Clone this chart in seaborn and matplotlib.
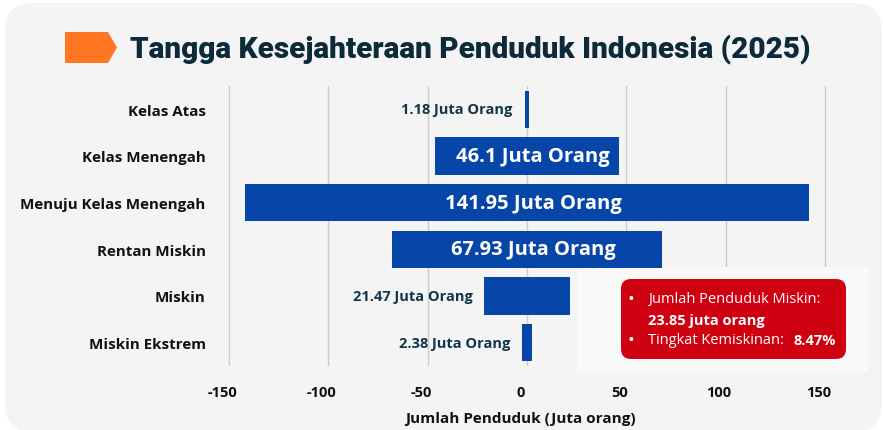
import numpy as np
import pandas as pd
import matplotlib
matplotlib.use("Agg")
import matplotlib.pyplot as plt
import seaborn as sns
from matplotlib.patches import FancyBboxPatch, Polygon, Rectangle
from matplotlib.transforms import IdentityTransform, ScaledTranslation

# ---------------- data ----------------
categories = ["Kelas Atas", "Kelas Menengah", "Menuju Kelas Menengah",
              "Rentan Miskin", "Miskin", "Miskin Ekstrem"]
values = [1.18, 46.1, 141.95, 67.93, 21.47, 2.38]
value_labels = [f"{v:g} Juta Orang" for v in values]
x_ticks = [-150, -100, -50, 0, 50, 100, 150]
title = "Tangga Kesejahteraan Penduduk Indonesia (2025)"
x_label = "Jumlah Penduduk (Juta orang)"
box_line1 = "Jumlah Penduduk Miskin:"
box_line2 = "23.85 juta orang"
box_line3 = "Tingkat Kemiskinan:"
box_line3_val = "8.47%"

# ---------------- style ----------------
sns.set_theme(style="white")
plt.rcParams["font.family"] = ["Open Sans", "DejaVu Sans"]

W, H = 883, 431
BLUE = "#0546A8"
NAVY = "#13354A"
RED = "#CF0010"
CARD = "#F4F4F4"

fig = plt.figure(figsize=(W / 100, H / 100), dpi=100)
fig.patch.set_facecolor("white")

def px(x, y):
    return (x, H - y)

# background card
card = FancyBboxPatch(px(5, 433), 877, 429,
                      boxstyle="round,pad=0,rounding_size=28",
                      transform=IdentityTransform(), fc=CARD, ec="none", zorder=0)
fig.add_artist(card)

# title marker
arrow = Polygon([px(65, 33), px(108, 33), px(117, 48.5), px(108, 64), px(65, 64)],
                closed=True, transform=IdentityTransform(), fc="#FF7722", ec="none")
fig.add_artist(arrow)
fig.text(130 / W, 1 - 49 / H, title, ha="left", va="center", fontsize=21.4,
         fontweight="black", color="#0C2A3A", family=["Roboto", "DejaVu Sans"])

# axes
ax_l, ax_r, ax_t, ax_b = 225, 829, 87, 367
ax = fig.add_axes([ax_l / W, 1 - ax_b / H, (ax_r - ax_l) / W, (ax_b - ax_t) / H])
ax.set_facecolor("none")

df = pd.DataFrame({"cat": categories, "v": values})
df["neg"] = -df["v"]
sns.barplot(data=df, y="cat", x="v", color=BLUE, saturation=1, width=0.8,
            errorbar=None, linewidth=0, ax=ax, zorder=2)
sns.barplot(data=df, y="cat", x="neg", color=BLUE, saturation=1, width=0.8,
            errorbar=None, linewidth=0, ax=ax, zorder=2)

ax.set_xlim(-152, 152)
ax.set_ylim(5.5, -0.5)
ax.set_xticks(x_ticks)
ax.set_xticklabels([str(t) for t in x_ticks], fontsize=10.5, fontweight="bold", color="#111111")
ax.tick_params(axis="x", length=0, pad=14)
ax.tick_params(axis="y", length=0, pad=14)
for lab in ax.get_yticklabels():
    lab.set_fontsize(10.9)
    lab.set_fontweight("bold")
    lab.set_color("#111111")
shift = ScaledTranslation(-6.5 / 100, 0, fig.dpi_scale_trans)
for lab in ax.get_xticklabels():
    lab.set_transform(lab.get_transform() + shift)
ax.set_ylabel("")
ax.set_xlabel(x_label, fontsize=11, fontweight="bold", color="#111111", labelpad=8)
ax.xaxis.label.set_transform(ax.xaxis.label.get_transform() + shift)
for s in ax.spines.values():
    s.set_visible(False)
ax.set_axisbelow(True)
ax.grid(axis="x", color="#CCCCCC", linewidth=1)
ax.grid(axis="y", visible=False)

# value labels
for i, (v, lab) in enumerate(zip(values, value_labels)):
    if v >= 40:
        ax.text(3, i, lab, ha="center", va="center", color="white",
                fontsize=14.5, fontweight="bold", zorder=5)
    else:
        ax.text(-v - 6, i, lab, ha="right", va="center", color=NAVY,
                fontsize=10.5, fontweight="bold", zorder=5)

# annotation panel
panel = Rectangle(px(577, 372), 291, 104, transform=IdentityTransform(),
                  fc="#F9F9F9", ec="none", zorder=1, clip_on=False)
ax.add_artist(panel)
rbox = FancyBboxPatch(px(621, 360), 225, 80, boxstyle="round,pad=0,rounding_size=10",
                      transform=IdentityTransform(), fc=RED, ec="none", zorder=6, clip_on=False)
ax.add_artist(rbox)
tk = dict(transform=IdentityTransform(), color="white", va="center", zorder=7)
ax.text(*px(631, 300), "•", ha="center", fontsize=13, **tk)
ax.text(*px(648, 300), box_line1, ha="left", fontsize=10.5, **tk)
ax.text(*px(648, 321), box_line2, ha="left", fontsize=10.5, fontweight="bold", **tk)
ax.text(*px(631, 341), "•", ha="center", fontsize=13, **tk)
ax.text(*px(648, 341), box_line3, ha="left", fontsize=10.5, **tk)
ax.text(*px(793, 341), box_line3_val, ha="left", fontsize=10.5, fontweight="bold", **tk)

fig.savefig("out.png", dpi=100, facecolor="white")
